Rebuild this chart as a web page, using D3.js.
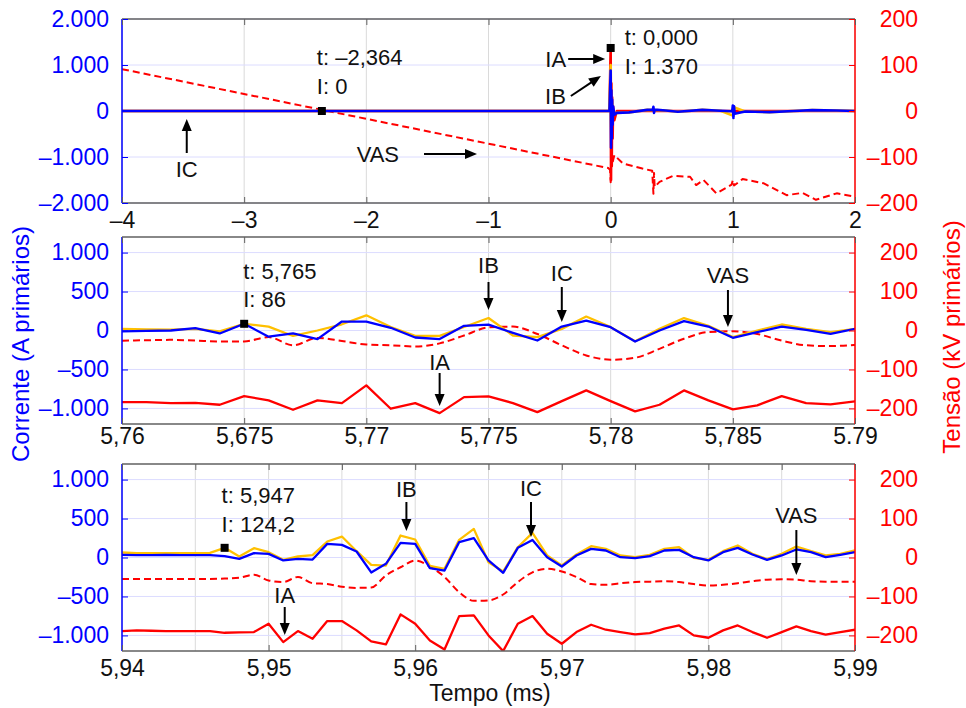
<!DOCTYPE html>
<html>
<head>
<meta charset="utf-8">
<script src="https://cdn.jsdelivr.net/npm/d3@7"></script>
<style>
    body { margin: 0; background: #fff; }
    svg text { font-family: "Liberation Sans", Arial, sans-serif; }
</style>
</head>
<body>
<div id="chart"></div>
<script>
// ---- tick values / labels ----
var topTimeTicks = [-4, -3, -2, -1, 0, 1, 2];
var topTimeLabels = ['\u20134', '\u20133', '\u20132', '\u20131', '0', '1', '2'];
var topCurrentTicks = [2000, 1000, 0, -1000, -2000];
var topCurrentLabels = ['2.000', '1.000', '0', '\u20131.000', '\u20132.000'];
var topVoltTicks = [200, 100, 0, -100, -200];
var zoomCurrentTicks = [1000, 500, 0, -500, -1000];
var zoomCurrentLabels = ['1.000', '500', '0', '\u2013500', '\u20131.000'];
var voltLabels = ['200', '100', '0', '\u2013100', '\u2013200'];
var midTimeTicks = [5.76, 5.765, 5.77, 5.775, 5.78, 5.785, 5.79];
var midTimeLabels = ['5,76', '5,675', '5,77', '5,775', '5,78', '5,785', '5.79'];
var botGridTicks = [5.94, 5.945, 5.95, 5.955, 5.96, 5.965, 5.97, 5.975, 5.98, 5.985, 5.99];
var botTimeTicks = [5.94, 5.95, 5.96, 5.97, 5.98, 5.99];
var botTimeLabels = ['5,94', '5,95', '5,96', '5,97', '5,98', '5,99'];

// ---- panel 1: -4 .. 2 ms ----
var topVAS_t = [-4, -0.02, -0.005, 0, 0.004, 0.01, 0.03, 0.1, 0.26, 0.34, 0.35, 0.355, 0.36, 0.4, 0.51, 0.65, 0.7, 0.76, 0.865, 0.99, 1.0, 1.01, 1.08, 1.25, 1.44, 1.57, 1.68, 1.85, 2];
var topVAS = [91, -124, -128, -155, -110, -118, -96, -114, -125, -130, -180, -135, -165, -154, -141, -143, -161, -150, -179, -160, -150, -162, -148, -157, -183, -178, -193, -179, -186];
var topIA_t = [-4, -0.01, 0, 0.003, 0.006, 0.009, 0.012, 0.016, 0.02, 0.03, 0.05, 2];
var topIA = [0, 0, 1370, -1500, 600, -1200, 300, -600, 100, -200, 0, 0];
var topIB_t = [-4, -0.01, 0, 0.004, 0.01, 0.02, 0.05, 0.15, 0.3, 0.45, 0.55, 0.75, 0.9, 1.0, 1.008, 1.1, 1.3, 1.5, 1.65, 1.85, 2];
var topIB = [0, 0, 1000, -350, 200, -60, -40, -30, 25, 10, -15, 25, 5, -100, 80, -10, -25, 0, 20, 10, 0];
var topIC_t = [-4, -0.01, 0, 0.003, 0.006, 0.009, 0.012, 0.016, 0.02, 0.03, 0.05, 0.15, 0.3, 0.345, 0.35, 0.355, 0.36, 0.45, 0.55, 0.75, 0.9, 0.995, 1.0, 1.005, 1.01, 1.015, 1.1, 1.3, 1.5, 1.65, 1.85, 2];
var topIC = [0, 0, 880, -800, 450, -600, 250, -300, 100, -80, -40, -30, 25, 30, 90, -40, 30, 10, -15, 25, 5, -5, 120, -150, 100, -60, -10, -25, 0, 20, 10, 0];

// ---- panel 2: 5,76 .. 5,79 ms ----
var midTime = [5.760, 5.761, 5.762, 5.763, 5.764, 5.765, 5.766, 5.767, 5.768, 5.769, 5.770, 5.771, 5.772, 5.773, 5.774, 5.775,
    5.776, 5.777, 5.778, 5.779, 5.780, 5.781, 5.782, 5.783, 5.784, 5.785, 5.786, 5.787, 5.788, 5.789, 5.790];
var midIA = [-919, -919, -932, -928, -953, -842, -897, -1017, -897, -932, -705, -1004, -932, -1060, -855, -846,
    -932, -1047, -906, -769, -906, -1038, -953, -769, -897, -1013, -961, -842, -932, -949, -910];
var midIB = [21, 15, 12, 20, -12, 86, 50, -70, 0, 80, 195, 45, -70, -70, 45, 160,
    -64, -85, 21, 179, 43, -137, 21, 160, 60, -85, 0, 77, 21, -21, 21];
var midIC = [-10, -5, 0, 30, -38, 86, -80, -38, -110, 115, 115, 35, -90, -110, 60, 75,
    -30, -128, 51, 128, 43, -141, 0, 120, 51, -94, -22, 51, 9, -43, 21];
var midVAS = [-26, -25, -24, -26, -28, -28, -17, -38, -19, -27, -36, -38, -41, -33, -13, 8,
    10, -9, -38, -64, -75, -70, -47, -21, -4, -2, -9, -26, -38, -40, -37];

// ---- panel 3: 5,94 .. 5,99 ms ----
var botTime = [5.940, 5.941, 5.942, 5.943, 5.944, 5.945, 5.946, 5.947, 5.948, 5.949,
    5.950, 5.951, 5.952, 5.953, 5.954, 5.955, 5.956, 5.957, 5.958, 5.959,
    5.960, 5.961, 5.962, 5.963, 5.964, 5.965, 5.966, 5.967, 5.968, 5.969,
    5.970, 5.971, 5.972, 5.973, 5.974, 5.975, 5.976, 5.977, 5.978, 5.979,
    5.980, 5.981, 5.982, 5.983, 5.984, 5.985, 5.986, 5.987, 5.988, 5.989, 5.990];
var botIA = [-944, -935, -940, -944, -944, -944, -944, -966, -962, -957,
    -850, -1086, -944, -1043, -816, -816, -935, -1077, -1116, -730,
    -850, -1064, -1180, -752, -743, -1000, -1201, -850, -752, -979,
    -1107, -957, -863, -927, -957, -987, -970, -914, -872, -1000,
    -1030, -935, -872, -957, -1030, -957, -884, -944, -991, -957, -927];
var botIB = [64, 56, 56, 56, 56, 56, 60, 124.2, 13, 120,
    68, -30, 13, 30, 205, 269, 81, -94, -103, 282,
    231, -107, -145, 226, 367, -60, -180, 132, 316, 26,
    -103, 38, 145, 111, 26, 4, 34, 111, 132, -4,
    -30, 81, 154, 47, -21, 47, 141, 81, 26, 47, 90];
var botIC = [34, 30, 30, 32, 30, 30, 30, 17, -17, 56,
    47, -38, -17, -26, 175, 162, 77, -192, -81, 188,
    175, -137, -167, 197, 248, -38, -197, 124, 226, 4,
    -115, 26, 111, 90, 4, -9, 17, 90, 98, 4,
    -38, 68, 124, 38, -30, 26, 103, 68, 4, 34, 68];
var botVAS = [-55, -55, -55, -55, -55, -55, -55, -54, -52, -44,
    -59, -63, -50, -66, -68, -75, -78, -77, -46, -25,
    -8, -23, -50, -89, -111, -110, -95, -63, -38, -29,
    -36, -50, -68, -70, -66, -63, -62, -61, -63, -68,
    -72, -70, -66, -61, -57, -56, -57, -61, -62, -62, -62];

var BLUE = '#0000ff', RED = '#ff0000', YELLOW = '#ffc000', FRAME = '#606060';
var plotLeft = 122, plotRight = 855;

var svg = d3.select('#chart')
    .append('svg')
    .attr('width', 966)
    .attr('height', 708);

var panels = [
    {
        id: 0, top: 19, bottom: 203,
        xDomain: [-4, 2], iDomain: [-2000, 2000], vDomain: [-200, 200],
        xGrid: topTimeTicks, xTicks: topTimeTicks, xLabels: topTimeLabels, xPad: 9,
        iTicks: topCurrentTicks, iLabels: topCurrentLabels,
        vTicks: topVoltTicks, vLabels: voltLabels,
        series: [
            { t: topVAS_t, v: topVAS, axis: 'V', color: RED, dash: '7,4', width: 2 },
            { t: topIA_t, v: topIA, color: RED, width: 2.6 },
            { t: topIB_t, v: topIB, color: YELLOW, width: 2.6 },
            { t: topIC_t, v: topIC, color: BLUE, width: 2.6 }
        ]
    },
    {
        id: 1, top: 237, bottom: 424,
        xDomain: [5.76, 5.79], iDomain: [-1200, 1200], vDomain: [-240, 240],
        xGrid: midTimeTicks, xTicks: midTimeTicks, xLabels: midTimeLabels, xPad: 4,
        iTicks: zoomCurrentTicks, iLabels: zoomCurrentLabels,
        vTicks: topVoltTicks, vLabels: voltLabels,
        series: [
            { t: midTime, v: midVAS, axis: 'V', color: RED, dash: '7,4', width: 2, curve: d3.curveMonotoneX },
            { t: midTime, v: midIA, color: RED },
            { t: midTime, v: midIB, color: YELLOW },
            { t: midTime, v: midIC, color: BLUE }
        ]
    },
    {
        id: 2, top: 464, bottom: 651,
        xDomain: [5.94, 5.99], iDomain: [-1200, 1200], vDomain: [-240, 240],
        xGrid: botGridTicks, xTicks: botTimeTicks, xLabels: botTimeLabels, xPad: 9,
        iTicks: zoomCurrentTicks, iLabels: zoomCurrentLabels,
        vTicks: topVoltTicks, vLabels: voltLabels,
        series: [
            { t: botTime, v: botVAS, axis: 'V', color: RED, dash: '7,4', width: 2, curve: d3.curveMonotoneX },
            { t: botTime, v: botIA, color: RED },
            { t: botTime, v: botIB, color: YELLOW },
            { t: botTime, v: botIC, color: BLUE }
        ]
    }
];

// arrows: tip at data point, tail / label offset in px
var arrowNotes = [
    { panel: 0, t: -0.045, v: 1130, dx: -37, dy: 0, text: 'IA', tx: -39, ty: 8, anchor: 'end' },
    { panel: 0, t: -0.08, v: 760, dx: -30, dy: 20, text: 'IB', tx: -35, ty: 28, anchor: 'end' },
    { panel: 0, t: -3.47, v: -174, dx: 0, dy: 34, text: 'IC', tx: 0, ty: 58, anchor: 'middle' },
    { panel: 0, t: -1.094, v: -933, dx: -53, dy: 0, text: 'VAS', tx: -78, ty: 8, anchor: 'end' },
    { panel: 1, t: 5.775, v: 263, dx: 0, dy: -28, text: 'IB', tx: 0, ty: -37, anchor: 'middle' },
    { panel: 1, t: 5.778, v: 109, dx: 0, dy: -35, text: 'IC', tx: 0, ty: -41, anchor: 'middle' },
    { panel: 1, t: 5.7848, v: 45, dx: 0, dy: -37, text: 'VAS', tx: 0, ty: -44, anchor: 'middle' },
    { panel: 1, t: 5.773, v: -969, dx: 0, dy: -33, text: 'IA', tx: 0, ty: -36, anchor: 'middle' },
    { panel: 2, t: 5.9594, v: 340, dx: 0, dy: -29, text: 'IB', tx: 0, ty: -34, anchor: 'middle' },
    { panel: 2, t: 5.9511, v: -995, dx: 0, dy: -28, text: 'IA', tx: 0, ty: -32, anchor: 'middle' },
    { panel: 2, t: 5.9679, v: 263, dx: 0, dy: -35, text: 'IC', tx: 0, ty: -41, anchor: 'middle' },
    { panel: 2, t: 5.986, v: -225, dx: 0, dy: -45, text: 'VAS', tx: 0, ty: -52, anchor: 'middle' }
];

// data tips (black square + readout)
var dataTips = [
    { panel: 0, t: -2.364, v: 0, lines: ['t: \u20132,364', 'I: 0'], tx: -5, ty: [-46, -17] },
    { panel: 0, t: 0, v: 1370, lines: ['t: 0,000', 'I: 1.370'], tx: 14, ty: [-3, 26] },
    { panel: 1, t: 5.765, v: 86, lines: ['t: 5,765', 'I: 86'], tx: -1, ty: [-45, -17] },
    { panel: 2, t: 5.947, v: 124.2, lines: ['t: 5,947', 'I: 124,2'], tx: -3, ty: [-45, -16] }
];

function styleAxis(g, color, size) {
    g.attr('font-family', '"Liberation Sans", Arial, sans-serif')
        .attr('font-size', size);
    g.select('.domain').remove();
    g.selectAll('line').attr('stroke', color === BLUE || color === RED ? color : FRAME);
    g.selectAll('text').attr('fill', color);
}

function drawPanel(p) {
    var x = d3.scaleLinear().domain(p.xDomain).range([plotLeft, plotRight]);
    var yI = d3.scaleLinear().domain(p.iDomain).range([p.bottom, p.top]);
    var yV = d3.scaleLinear().domain(p.vDomain).range([p.bottom, p.top]);
    p.x = x; p.yI = yI;

    var g = svg.append('g');

    // grid
    g.selectAll('line.vgrid')
        .data(p.xGrid)
        .enter()
        .append('line')
        .attr('class', 'vgrid')
        .attr('x1', x).attr('x2', x)
        .attr('y1', p.top).attr('y2', p.bottom)
        .attr('stroke', '#dadada');

    g.selectAll('line.hgrid')
        .data(p.iTicks)
        .enter()
        .append('line')
        .attr('class', 'hgrid')
        .attr('x1', plotLeft).attr('x2', plotRight)
        .attr('y1', yI).attr('y2', yI)
        .attr('stroke', '#dcdcff');

    svg.append('clipPath')
        .attr('id', 'clip' + p.id)
        .append('rect')
        .attr('x', plotLeft).attr('y', p.top)
        .attr('width', plotRight - plotLeft)
        .attr('height', p.bottom - p.top);

    var lines = g.append('g').attr('clip-path', 'url(#clip' + p.id + ')');

    p.series.forEach(function (s) {
        var y = s.axis === 'V' ? yV : yI;
        var line = d3.line()
            .x(function (d, i) { return x(s.t[i]); })
            .y(function (d) { return y(d); })
            .curve(s.curve || d3.curveLinear);
        lines.append('path')
            .datum(s.v)
            .attr('d', line)
            .attr('fill', 'none')
            .attr('stroke', s.color)
            .attr('stroke-width', s.width || 2.3)
            .attr('stroke-linejoin', 'round')
            .attr('stroke-dasharray', s.dash || null);
    });

    // frame
    g.append('line').attr('x1', plotLeft).attr('x2', plotRight).attr('y1', p.top).attr('y2', p.top)
        .attr('stroke', FRAME).attr('stroke-width', 1.5);
    g.append('line').attr('x1', plotLeft).attr('x2', plotRight).attr('y1', p.bottom).attr('y2', p.bottom)
        .attr('stroke', FRAME).attr('stroke-width', 1.5);
    g.append('line').attr('x1', plotLeft).attr('x2', plotLeft).attr('y1', p.top).attr('y2', p.bottom)
        .attr('stroke', BLUE).attr('stroke-width', 1.5);
    g.append('line').attr('x1', plotRight).attr('x2', plotRight).attr('y1', p.top).attr('y2', p.bottom)
        .attr('stroke', RED).attr('stroke-width', 1.5);

    // axes
    var left = g.append('g')
        .attr('transform', 'translate(' + plotLeft + ',0)')
        .call(d3.axisLeft(yI).tickValues(p.iTicks)
            .tickFormat(function (d, i) { return p.iLabels[i]; })
            .tickSize(-6).tickPadding(13));
    styleAxis(left, BLUE, 23);

    var right = g.append('g')
        .attr('transform', 'translate(' + plotRight + ',0)')
        .call(d3.axisRight(yV).tickValues(p.vTicks)
            .tickFormat(function (d, i) { return p.vLabels[i]; })
            .tickSize(-6));
    styleAxis(right, RED, 23);
    right.selectAll('text').attr('text-anchor', 'end').attr('x', 63);

    var bottom = g.append('g')
        .attr('transform', 'translate(0,' + p.bottom + ')')
        .call(d3.axisBottom(x).tickValues(p.xTicks)
            .tickFormat(function (d, i) { return p.xLabels[i]; })
            .tickSize(-6).tickPadding(p.xPad));
    styleAxis(bottom, '#111', 23);

    var topAx = g.append('g')
        .attr('transform', 'translate(0,' + p.top + ')')
        .call(d3.axisTop(x).tickValues(p.xGrid).tickFormat('').tickSize(-6));
    styleAxis(topAx, '#111', 23);
}

panels.forEach(drawPanel);

// arrows with labels
var notes = svg.append('g');
arrowNotes.forEach(function (a) {
    var p = panels[a.panel];
    var tipX = p.x(a.t), tipY = p.yI(a.v);
    var tailX = tipX + a.dx, tailY = tipY + a.dy;
    var len = Math.sqrt(a.dx * a.dx + a.dy * a.dy);
    var ux = -a.dx / len, uy = -a.dy / len;
    var headLen = 12, headW = 5;
    var baseX = tipX - ux * headLen, baseY = tipY - uy * headLen;

    notes.append('line')
        .attr('x1', tailX).attr('y1', tailY)
        .attr('x2', baseX + ux * 1).attr('y2', baseY + uy * 1)
        .attr('stroke', '#000')
        .attr('stroke-width', 2);
    notes.append('path')
        .attr('d', 'M' + tipX + ',' + tipY +
            'L' + (baseX - uy * headW) + ',' + (baseY + ux * headW) +
            'L' + (baseX + uy * headW) + ',' + (baseY - ux * headW) + 'Z')
        .attr('fill', '#000');
    notes.append('text')
        .attr('x', tipX + a.tx)
        .attr('y', tipY + a.ty)
        .attr('text-anchor', a.anchor)
        .attr('font-size', 22)
        .attr('fill', '#111')
        .text(a.text);
});

dataTips.forEach(function (d) {
    var p = panels[d.panel];
    var cx = p.x(d.t), cy = p.yI(d.v);
    notes.append('rect')
        .attr('x', cx - 4).attr('y', cy - 4)
        .attr('width', 8).attr('height', 8)
        .attr('fill', '#000');
    d.lines.forEach(function (txt, i) {
        notes.append('text')
            .attr('x', cx + d.tx)
            .attr('y', cy + d.ty[i])
            .attr('font-size', 22)
            .attr('fill', '#111')
            .text(txt);
    });
});

// axis titles
svg.append('text')
    .attr('transform', 'translate(29,344) rotate(-90)')
    .attr('text-anchor', 'middle')
    .attr('font-size', 24)
    .attr('fill', BLUE)
    .text('Corrente (A primários)');

svg.append('text')
    .attr('transform', 'translate(960,337) rotate(-90)')
    .attr('text-anchor', 'middle')
    .attr('font-size', 24)
    .attr('fill', RED)
    .text('Tensão (kV primários)');

svg.append('text')
    .attr('x', 490)
    .attr('y', 701)
    .attr('text-anchor', 'middle')
    .attr('font-size', 23)
    .attr('fill', '#111')
    .text('Tempo (ms)');
</script>
</body>
</html>
